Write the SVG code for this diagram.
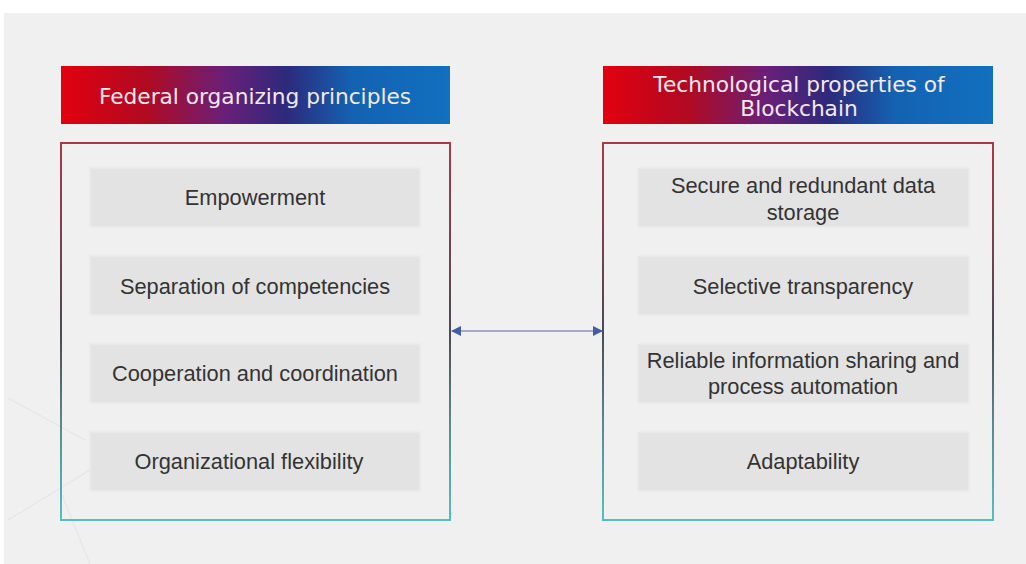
<svg xmlns="http://www.w3.org/2000/svg" width="1026" height="564" viewBox="0 0 1026 564">
  <defs>
    <linearGradient id="hdr" x1="0" y1="0" x2="1" y2="0">
      <stop offset="0" stop-color="#e2000f"/>
      <stop offset="0.22" stop-color="#b00a22"/>
      <stop offset="0.42" stop-color="#6a1f78"/>
      <stop offset="0.58" stop-color="#2c2a7c"/>
      <stop offset="0.75" stop-color="#1462b2"/>
      <stop offset="1" stop-color="#1170bf"/>
    </linearGradient>
    <linearGradient id="bord" gradientUnits="userSpaceOnUse" x1="0" y1="143" x2="0" y2="520">
      <stop offset="0" stop-color="#a8394a"/>
      <stop offset="0.5" stop-color="#4a4a55"/>
      <stop offset="0.75" stop-color="#5a8a90"/>
      <stop offset="1" stop-color="#52c0c0"/>
    </linearGradient>
    <marker id="ah" viewBox="0 0 10 10" refX="9" refY="5" markerWidth="10" markerHeight="10" markerUnits="userSpaceOnUse" orient="auto-start-reverse">
      <path d="M0,0 L10,5 L0,10 z" fill="#3f5fa6"/>
    </marker>
    <filter id="soft" x="-5%" y="-10%" width="110%" height="120%">
      <feGaussianBlur stdDeviation="1.2"/>
    </filter>
  </defs>
  <style>
    .hdr { fill: url(#hdr); }
    .htxt { font-family: "DejaVu Sans", sans-serif; font-size: 21.7px; fill: #f6e8ef; text-anchor: middle; }
    .outer { fill: none; stroke: url(#bord); stroke-width: 2; }
    .item { fill: #e3e3e3; filter: url(#soft); }
    .itxt { font-family: "Liberation Sans", Arial, sans-serif; font-size: 21.8px; fill: #333333; text-anchor: middle; }
    .conn { stroke: #a4abc8; stroke-width: 2; fill: none; }
    .deco { stroke: #e6e6e6; stroke-width: 1.2; fill: none; }
  </style>
  <rect x="0" y="0" width="1026" height="564" fill="#ffffff"/>
  <rect x="4" y="13" width="1022" height="551" fill="#f0f0f0"/>
  <g id="decor">
    <path class="deco" d="M8,398 L85,440"/>
    <path class="deco" d="M8,520 L90,470"/>
    <path class="deco" d="M60,490 L90,564"/>
  </g>

  <g id="left-header">
    <rect class="hdr" x="61" y="66" width="389" height="58"/>
    <text class="htxt" x="255" y="104">Federal organizing principles</text>
  </g>
  <g id="right-header">
    <rect class="hdr" x="603" y="66" width="390" height="58"/>
    <text class="htxt" x="799" y="92">Technological properties of</text>
    <text class="htxt" x="799" y="116">Blockchain</text>
  </g>

  <g id="left-panel">
    <rect class="outer" x="61" y="143" width="389" height="377"/>
  </g>
  <g id="right-panel">
    <rect class="outer" x="603" y="143" width="390" height="377"/>
  </g>

  <g id="l1"><rect class="item" x="90" y="168" width="330" height="59"/><text class="itxt" x="255" y="205">Empowerment</text></g>
  <g id="l2"><rect class="item" x="90" y="256" width="330" height="59"/><text class="itxt" x="255" y="294">Separation of competencies</text></g>
  <g id="l3"><rect class="item" x="90" y="344" width="330" height="59"/><text class="itxt" x="255" y="381">Cooperation and coordination</text></g>
  <g id="l4"><rect class="item" x="90" y="432" width="330" height="59"/><text class="itxt" x="249" y="469">Organizational flexibility</text></g>

  <g id="r1"><rect class="item" x="638" y="168" width="331" height="59"/><text class="itxt" x="803" y="193">Secure and redundant data</text><text class="itxt" x="803" y="220">storage</text></g>
  <g id="r2"><rect class="item" x="638" y="256" width="331" height="59"/><text class="itxt" x="803" y="294">Selective transparency</text></g>
  <g id="r3"><rect class="item" x="638" y="344" width="331" height="59"/><text class="itxt" x="803" y="368">Reliable information sharing and</text><text class="itxt" x="803" y="394">process automation</text></g>
  <g id="r4"><rect class="item" x="638" y="432" width="331" height="59"/><text class="itxt" x="803" y="469">Adaptability</text></g>

  <g id="connectors">
    <line class="conn" x1="452" y1="331" x2="602" y2="331" marker-start="url(#ah)" marker-end="url(#ah)"/>
  </g>
</svg>
